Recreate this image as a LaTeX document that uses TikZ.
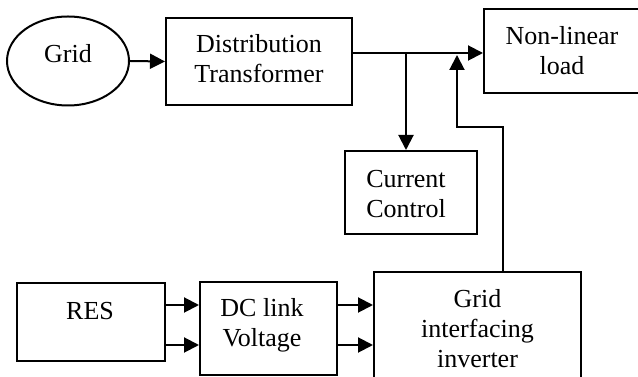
\documentclass[tikz,border=0pt]{standalone}
\usepackage{fontspec}
\setmainfont{Liberation Serif}
\usetikzlibrary{arrows.meta,shapes.geometric}
\begin{document}
\begin{tikzpicture}[x=1pt,y=1pt,
  every node/.style={font=\fontsize{26pt}{30pt}\selectfont},
  box/.style={draw,line width=2pt,rectangle,inner sep=0pt},
  txt/.style={align=center,anchor=base,inner sep=0pt},
  arr/.style={line width=2pt,-{Triangle[length=15pt,width=15pt]}}]
\useasboundingbox (0,0) rectangle (638,377);
\clip (0,0) rectangle (638,377);
% shapes
\node[draw,ellipse,line width=2pt,minimum width=122pt,minimum height=89pt,inner sep=0pt] (grid) at (68,316) {};
\node[box,minimum width=186pt,minimum height=87pt] (dt) at (259,315.5) {};
\node[box,minimum width=156pt,minimum height=84pt] (nl) at (562,326) {};
\node[box,minimum width=132pt,minimum height=83pt] (cc) at (411,184.5) {};
\node[box,minimum width=148pt,minimum height=78pt] (res) at (91,55) {};
\node[box,minimum width=137pt,minimum height=93pt] (dc) at (268.5,48.5) {};
\node[box,minimum width=207pt,minimum height=128pt] (inv) at (477.5,41) {};
% texts (base = baseline of last line)
\node[txt] (tgrid) at (68,314) {Grid};
\node[txt] (tdt) at (259,294) {Distribution\\Transformer};
\node[txt] (tnl) at (562,302) {Non-linear\\load};
\node[txt] (tcc) at (406,159) {Current\\Control};
\node[txt] (tres) at (90,57) {RES};
\node[txt] (tdc) at (262,30) {DC link\\Voltage};
\node[txt] (tinv) at (477.5,9) {Grid\\interfacing\\inverter};
% connectors
\coordinate (p) at (352,324);
\coordinate (j1) at (406,324);
\coordinate (j2) at (457,322);
\coordinate (k) at (457,250);
\draw[arr] (grid.east) -- (dt.west);
\draw[arr] (p) -- (nl.west |- p);
\draw[arr] (j1) -- (j1 |- cc.north);
\draw[arr] ([xshift=25.5pt]inv.north) |- (k) -- (j2);
\draw[arr] (res.east |- 0,72) -- (dc.west |- 0,72);
\draw[arr] (res.east |- 0,32) -- (dc.west |- 0,32);
\draw[arr] (dc.east |- 0,72) -- (inv.west |- 0,72);
\draw[arr] (dc.east |- 0,32) -- (inv.west |- 0,32);
\end{tikzpicture}
\end{document}
